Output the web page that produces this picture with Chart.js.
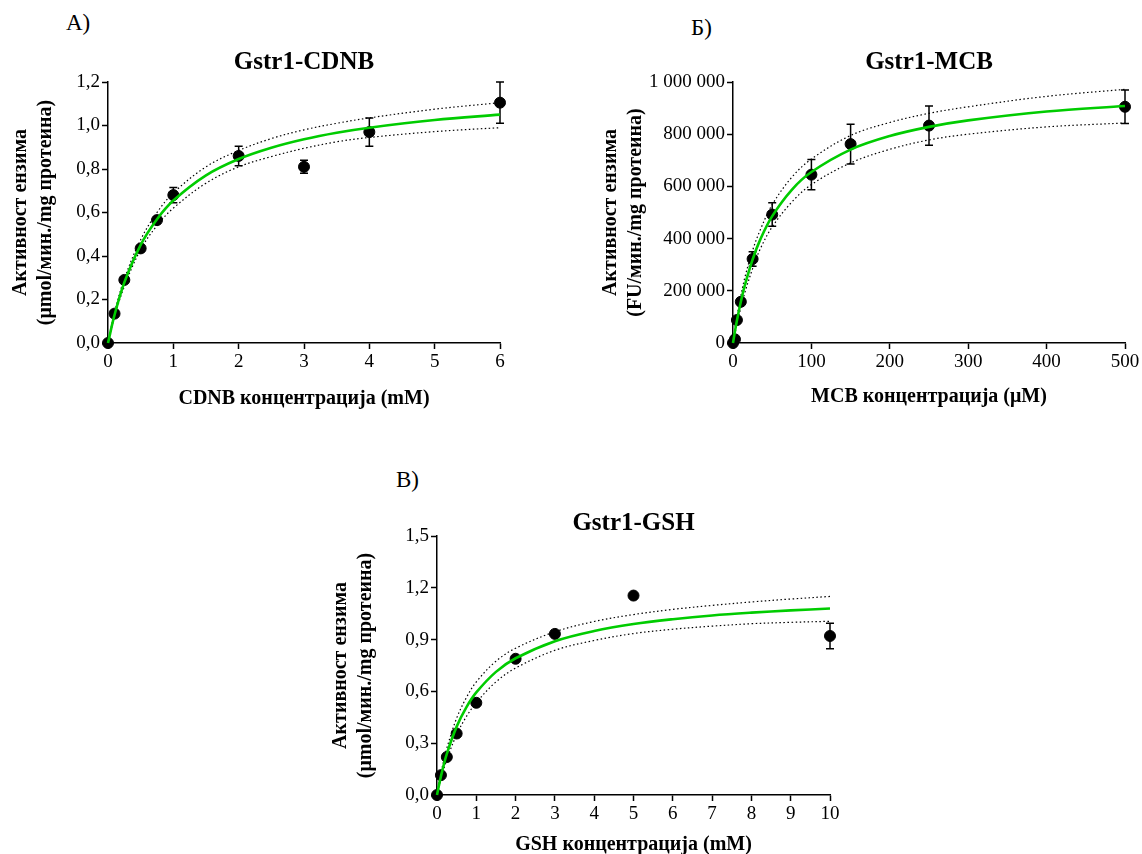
<!DOCTYPE html>
<html>
<head>
<meta charset="utf-8">
<script src="https://cdn.jsdelivr.net/npm/chart.js@4.4.0/dist/chart.umd.min.js"></script>
<style>
  html, body { margin: 0; padding: 0; background: #fff; }
  body { width: 1142px; height: 854px; position: relative; overflow: hidden; font-family: "Liberation Serif", serif; }
  .panel { position: absolute; }
  .tag { position: absolute; font-size: 23px; color: #000; }
</style>
</head>
<body>
<div class="tag" style="left:66px; top:10px;">А)</div>
<div class="tag" style="left:691px; top:15px;">Б)</div>
<div class="tag" style="left:396px; top:467px;">В)</div>

<div class="panel" style="left:0; top:0; width:520px; height:412px;"><canvas id="chA"></canvas></div>
<div class="panel" style="left:590px; top:0; width:552px; height:412px;"><canvas id="chB"></canvas></div>
<div class="panel" style="left:320px; top:460px; width:540px; height:400px;"><canvas id="chC"></canvas></div>

<script>
// --- А) Gstr1-CDNB ---
const cdnbX    = [0, 0.1, 0.25, 0.5, 0.75, 1, 2, 3, 4, 6];
const cdnbY    = [0, 0.135, 0.29, 0.435, 0.565, 0.68, 0.86, 0.81, 0.97, 1.105];
const cdnbErr  = [0, 0.015, 0.015, 0.015, 0.015, 0.035, 0.045, 0.03, 0.065, 0.095];
const cdnbFitX = [0, 0.1, 0.25, 0.5, 0.75, 1, 1.5, 2, 2.5, 3, 3.5, 4, 5, 6];
const cdnbFit  = [0, 0.129, 0.278, 0.451, 0.569, 0.655, 0.771, 0.846, 0.898, 0.937, 0.967, 0.99, 1.025, 1.05];
const cdnbHi   = [0, 0.14, 0.295, 0.475, 0.6, 0.69, 0.81, 0.885, 0.94, 0.98, 1.01, 1.035, 1.075, 1.105];
const cdnbLo   = [0, 0.12, 0.26, 0.43, 0.54, 0.62, 0.735, 0.81, 0.857, 0.895, 0.925, 0.945, 0.972, 0.99];

// --- Б) Gstr1-MCB ---
const mcbX    = [0, 2.5, 5, 10, 25, 50, 100, 150, 250, 500];
const mcbY    = [0, 14000, 88000, 158000, 322000, 492000, 645000, 762000, 833000, 905000];
const mcbErr  = [0, 4000, 8000, 10000, 28000, 45000, 58000, 76000, 75000, 64000];
const mcbFitX = [0, 2, 5, 10, 15, 25, 35, 50, 75, 100, 150, 200, 250, 300, 400, 500];
const mcbFit  = [0, 36000, 86000, 158000, 220000, 320000, 398000, 486000, 587000, 655000, 741000, 793000, 828000, 853000, 887000, 908000];
const mcbHi   = [0, 42000, 100000, 180000, 250000, 355000, 435000, 530000, 635000, 705000, 795000, 845000, 880000, 905000, 945000, 972000];
const mcbLo   = [0, 30000, 72000, 136000, 192000, 285000, 362000, 445000, 540000, 607000, 690000, 742000, 778000, 800000, 828000, 843000];

// --- В) Gstr1-GSH ---
const gshX    = [0, 0.1, 0.25, 0.5, 1, 2, 3, 5, 10];
const gshY    = [0, 0.115, 0.22, 0.356, 0.534, 0.789, 0.933, 1.155, 0.921];
const gshErr  = [0, 0, 0, 0, 0, 0, 0, 0, 0.074];
const gshFitX = [0, 0.1, 0.25, 0.5, 0.75, 1, 1.5, 2, 3, 4, 5, 6, 7, 8, 9, 10];
const gshFit  = [0, 0.108, 0.238, 0.396, 0.509, 0.594, 0.713, 0.792, 0.891, 0.95, 0.99, 1.018, 1.04, 1.056, 1.069, 1.08];
const gshHi   = [0, 0.125, 0.27, 0.445, 0.565, 0.655, 0.775, 0.85, 0.945, 1.005, 1.045, 1.075, 1.098, 1.118, 1.135, 1.15];
const gshLo   = [0, 0.09, 0.205, 0.35, 0.455, 0.535, 0.655, 0.735, 0.838, 0.895, 0.935, 0.96, 0.978, 0.992, 1.0, 1.006];

const yLabel = ["Активност ензима", "(μmol/мин./mg протеина)"];
const yLabelFU = ["Активност ензима", "(FU/мин./mg протеина)"];
const FONT = "'Liberation Serif', 'Times New Roman', serif";
const GREEN = "rgb(0,204,0)";

const pts = (xs, ys) => xs.map((x, i) => ({ x, y: ys[i] }));
const commaFmt = v => v.toFixed(1).replace(".", ",");
const spaceFmt = v => String(Math.round(v)).replace(/\B(?=(\d{3})+(?!\d))/g, " ");

// error bars drawn with the chart's own scales
const errorBars = {
  id: "errorBars",
  beforeDatasetsDraw(chart){
    const { ctx, scales: { x, y } } = chart;
    chart.data.datasets.forEach(ds => {
      if (!ds.errors) return;
      ctx.save();
      ctx.strokeStyle = "#000";
      ctx.lineWidth = 1.5;
      ds.data.forEach((p, i) => {
        const e = ds.errors[i];
        if (!e) return;
        const px = x.getPixelForValue(p.x);
        const top = y.getPixelForValue(p.y + e);
        const bot = y.getPixelForValue(p.y - e);
        ctx.beginPath();
        ctx.moveTo(px, top); ctx.lineTo(px, bot);
        ctx.moveTo(px - 4, top); ctx.lineTo(px + 4, top);
        ctx.moveTo(px - 4, bot); ctx.lineTo(px + 4, bot);
        ctx.stroke();
      });
      ctx.restore();
    });
  }
};

function makeChart(id, cfg){
  const lineDs = (data, extra) => Object.assign({
    data, showLine: true, pointRadius: 0, fill: false, tension: 0.35, clip: false
  }, extra);

  return new Chart(document.getElementById(id), {
    type: "scatter",
    data: {
      datasets: [
        { data: pts(cfg.x, cfg.y), errors: cfg.err, backgroundColor: "#000", borderColor: "#000",
          pointRadius: 5.5, pointHoverRadius: 5.5, clip: false, order: 3 },
        lineDs(pts(cfg.fitX, cfg.hi), { borderColor: "#000", borderWidth: 1.2, borderDash: [1.5, 2.5], order: 2 }),
        lineDs(pts(cfg.fitX, cfg.lo), { borderColor: "#000", borderWidth: 1.2, borderDash: [1.5, 2.5], order: 2 }),
        lineDs(pts(cfg.fitX, cfg.fit), { borderColor: GREEN, borderWidth: 2.6, order: 1 })
      ]
    },
    options: {
      responsive: true,
      maintainAspectRatio: false,
      animation: false,
      layout: { padding: { left: 0, right: cfg.padRight, top: 0, bottom: 0 } },
      plugins: {
        legend: { display: false },
        tooltip: { enabled: false },
        title: {
          display: true, text: cfg.title, fullSize: false, color: "#000",
          font: { family: FONT, size: 25, weight: "bold", lineHeight: 1.0 },
          padding: cfg.titlePad
        }
      },
      scales: {
        x: {
          type: "linear", min: cfg.xMin, max: cfg.xMax,
          afterFit: s => { s.height = cfg.xH; },
          border: { color: "#000", width: 1.5 },
          grid: { drawOnChartArea: false, drawTicks: true, tickLength: 6, tickColor: "#000", tickWidth: 1.5 },
          ticks: { stepSize: cfg.xStep, color: "#000", padding: 2, maxRotation: 0,
                   font: { family: FONT, size: 19 } },
          title: { display: true, text: cfg.xTitle, color: "#000", padding: cfg.xTitlePad,
                   font: { family: FONT, size: 20, weight: "bold", lineHeight: 1.0 } }
        },
        y: {
          type: "linear", min: 0, max: cfg.yMax,
          afterFit: s => { s.width = cfg.yW; },
          border: { color: "#000", width: 1.5 },
          grid: { drawOnChartArea: false, drawTicks: true, tickLength: 6, tickColor: "#000", tickWidth: 1.5 },
          ticks: { stepSize: cfg.yStep, color: "#000", padding: 2, callback: cfg.yFmt,
                   font: { family: FONT, size: 19 } },
          title: { display: true, text: cfg.yTitle, color: "#000", padding: { top: 8, bottom: 0 },
                   font: { family: FONT, size: 20, weight: "bold", lineHeight: 1.25 } }
        }
      }
    },
    plugins: [errorBars]
  });
}

makeChart("chA", {
  title: "Gstr1-CDNB", titlePad: { top: 50, bottom: 7 },
  x: cdnbX, y: cdnbY, err: cdnbErr, fitX: cdnbFitX, fit: cdnbFit, hi: cdnbHi, lo: cdnbLo,
  xMin: 0, xMax: 6, xStep: 1, yMax: 1.2, yStep: 0.2, yFmt: commaFmt,
  xTitle: "CDNB концентрација (mM)", yTitle: yLabel, xTitlePad: { top: 8, bottom: 3 },
  padRight: 20, yW: 108, xH: 69
});

makeChart("chB", {
  title: "Gstr1-MCB", titlePad: { top: 50, bottom: 7 },
  x: mcbX, y: mcbY, err: mcbErr, fitX: mcbFitX, fit: mcbFit, hi: mcbHi, lo: mcbLo,
  xMin: 0, xMax: 500, xStep: 100, yMax: 1000000, yStep: 200000, yFmt: spaceFmt,
  xTitle: "MCB концентрација (μM)", yTitle: yLabelFU, xTitlePad: { top: 8, bottom: 5 },
  padRight: 17, yW: 143, xH: 69
});

makeChart("chC", {
  title: "Gstr1-GSH", titlePad: { top: 51, bottom: 0 },
  x: gshX, y: gshY, err: gshErr, fitX: gshFitX, fit: gshFit, hi: gshHi, lo: gshLo,
  xMin: 0, xMax: 10, xStep: 1, yMax: 1.5, yStep: 0.3, yFmt: commaFmt,
  xTitle: "GSH концентрација (mM)", yTitle: yLabel, xTitlePad: { top: 8, bottom: 5 },
  padRight: 30, yW: 117, xH: 65
});
</script>
</body>
</html>
